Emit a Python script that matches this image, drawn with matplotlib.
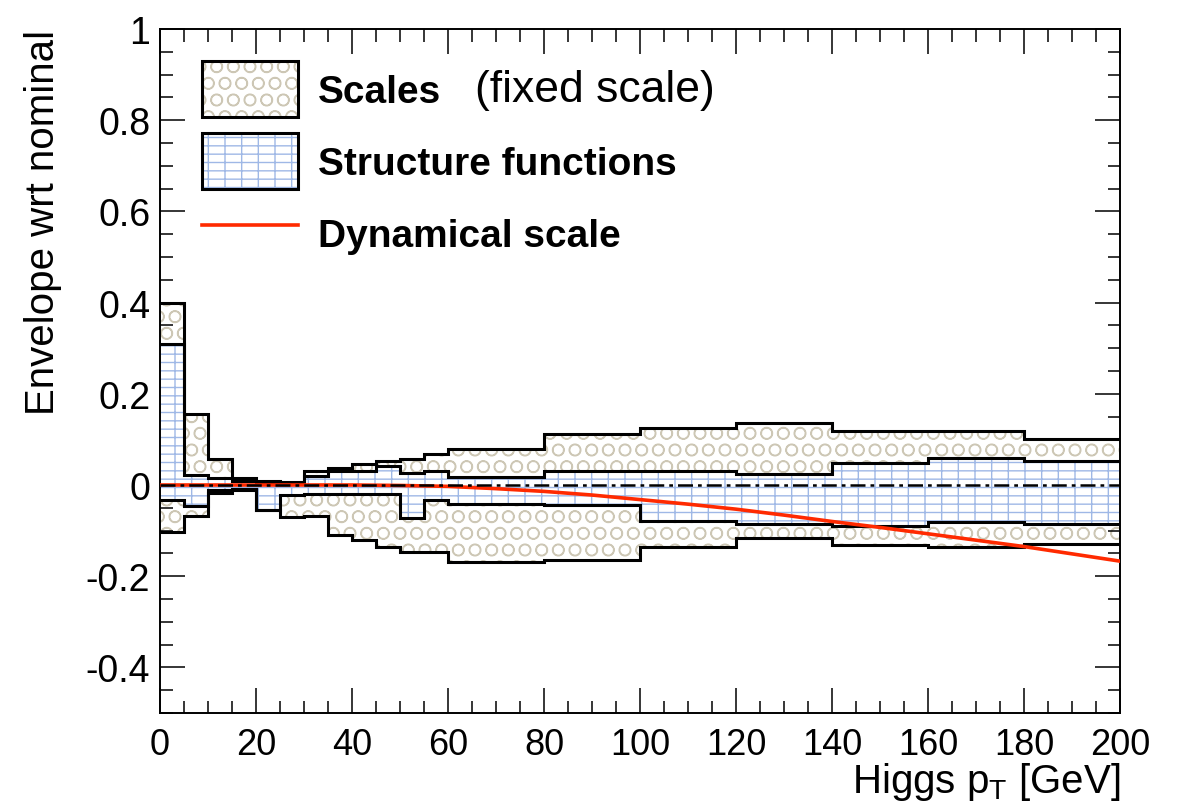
import numpy as np
import matplotlib
matplotlib.use("Agg")
import matplotlib.pyplot as plt
from matplotlib.patches import Patch
from matplotlib.lines import Line2D
from matplotlib.ticker import MultipleLocator, FuncFormatter

plt.rcParams['font.family'] = ['Liberation Sans', 'DejaVu Sans']
plt.rcParams['mathtext.fontset'] = 'custom'
plt.rcParams['mathtext.rm'] = 'Liberation Sans'
plt.rcParams['axes.unicode_minus'] = False
plt.rcParams['hatch.linewidth'] = 1.0

# Higgs pT bin edges [GeV]
edges = [0, 5, 10, 15, 20, 25, 30, 35, 40, 45, 50, 55, 60, 80, 100, 120, 140, 160, 180, 200]

# envelope of scale variations (fixed scale)
scale_up = [0.400, 0.156, 0.056, 0.015, 0.008, 0.006, 0.030, 0.037, 0.046, 0.052,
            0.056, 0.068, 0.078, 0.112, 0.125, 0.136, 0.118, 0.118, 0.100]
scale_down = [-0.102, -0.068, -0.018, -0.012, -0.054, -0.070, -0.068, -0.109, -0.120, -0.135,
              -0.146, -0.146, -0.168, -0.164, -0.135, -0.116, -0.131, -0.135, -0.129]

# envelope of structure function variations
pdf_up = [0.310, 0.023, 0.015, 0.008, 0.005, 0.004, 0.020, 0.030, 0.030, 0.041,
          0.026, 0.030, 0.017, 0.031, 0.031, 0.025, 0.048, 0.059, 0.052]
pdf_down = [-0.032, -0.045, -0.012, -0.008, -0.054, -0.021, -0.020, -0.020, -0.020, -0.020,
            -0.072, -0.032, -0.042, -0.043, -0.078, -0.086, -0.091, -0.081, -0.086]

# dynamical scale vs nominal
dyn_pt = [0, 10, 20, 30, 40, 50, 60, 70, 80, 90, 100, 110, 120, 130, 140, 150, 160, 170, 180, 190, 200]
dyn_val = [0.0, 0.0, 0.0, 0.0, 0.0, -0.001, -0.003, -0.008, -0.014, -0.022, -0.032,
           -0.042, -0.053, -0.066, -0.080, -0.093, -0.107, -0.121, -0.135, -0.151, -0.167]

nominal = [0.0, 0.0]
nominal_pt = [0, 200]

tan = '#cdc7b5'
blue = '#9fb8e6'
red = '#ff2a00'

fig = plt.figure(figsize=(11.82, 8.12), dpi=100)
ax = fig.add_axes([160 / 1182, 98 / 812, 960 / 1182, 684 / 812])

# bands
ax.stairs(scale_up, edges, baseline=scale_down, fill=True, facecolor='white',
          edgecolor=tan, hatch='O', linewidth=0, zorder=1)
ax.stairs(pdf_up, edges, baseline=pdf_down, fill=True, facecolor='white',
          edgecolor=blue, hatch='--|', linewidth=0, zorder=2)

# outlines
for vals in (scale_up, scale_down, pdf_up, pdf_down):
    ax.stairs(vals, edges, baseline=None, color='black', linewidth=2.2, zorder=3)

ax.plot(dyn_pt, dyn_val, color=red, linewidth=2.6, zorder=4)
ax.plot(nominal_pt, nominal, color='black', linewidth=1.8,
        dashes=(6, 2, 1.5, 2), zorder=5)

ax.set_xlim(0, 200)
ax.set_ylim(-0.5, 1)

ax.xaxis.set_major_locator(MultipleLocator(20))
ax.xaxis.set_minor_locator(MultipleLocator(5))
ax.yaxis.set_major_locator(MultipleLocator(0.2))
ax.yaxis.set_minor_locator(MultipleLocator(0.05))
ax.yaxis.set_major_formatter(FuncFormatter(lambda v, p: '%g' % round(v, 2)))

ax.tick_params(which='both', direction='in', top=True, right=True, width=1.1)
ax.tick_params(which='major', length=18)
ax.tick_params(which='minor', length=9)
ax.tick_params(axis='x', labelsize=26, pad=10)
ax.tick_params(axis='y', labelsize=27, pad=7)
for sp in ax.spines.values():
    sp.set_linewidth(1.4)

ax.set_ylabel('Envelope wrt nominal', fontsize=29, loc='top')
ax.yaxis.set_label_coords(-0.102, 1.0)
ax.set_xlabel('Higgs p$_{\\mathrm{T}}$ [GeV]', fontsize=29, loc='right')
ax.xaxis.set_label_coords(1.0, -0.068)

# legend
h_scale = (Patch(facecolor='white', edgecolor=tan, hatch='O', linewidth=0),
           Patch(facecolor='none', edgecolor='black', linewidth=2.2))
h_pdf = (Patch(facecolor='white', edgecolor=blue, hatch='--|', linewidth=0),
         Patch(facecolor='none', edgecolor='black', linewidth=2.2))
h_dyn = Line2D([], [], color=red, linewidth=2.6)
fs = 28
fs_px = fs * 100 / 72
ax.legend([h_scale, h_pdf, h_dyn], ['Scales', 'Structure functions', 'Dynamical scale'],
          loc='upper left', bbox_to_anchor=(0.044, 0.953), frameon=False,
          borderpad=0, borderaxespad=0, handlelength=96 / fs_px,
          handleheight=1.84, labelspacing=0.41, handletextpad=0.5,
          prop={'size': fs, 'weight': 'bold'})
ax.text(0.328, 0.912, '(fixed scale)', transform=ax.transAxes, fontsize=32,
        va='center', ha='left')

fig.savefig('out.png', dpi=100)
